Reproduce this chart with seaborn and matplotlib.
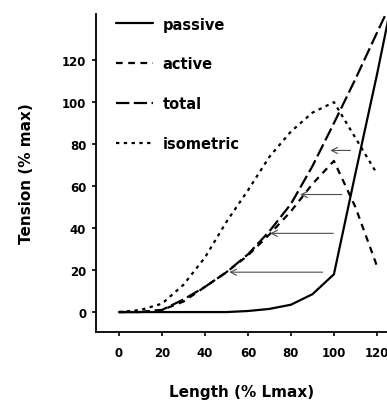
import numpy as np
import pandas as pd
import matplotlib
matplotlib.use("Agg")
import matplotlib.pyplot as plt
import seaborn as sns

# values
length_passive = [0, 20, 40, 50, 60, 70, 80, 90, 100, 110, 120, 126]
passive = [0, 0, 0, 0, 0.5, 1.5, 3.5, 8.5, 18, 66, 113, 143]

length_active = [0, 10, 20, 30, 40, 50, 60, 70, 80, 90, 100, 110, 120]
active = [0, 0, 1, 5, 12, 19, 27, 37, 48, 61, 72, 50, 22]

length_total = [0, 10, 20, 30, 40, 50, 60, 70, 80, 90, 100, 110, 120, 126]
total = [0, 0, 1, 6, 12, 19, 27.5, 38.5, 51.5, 69.5, 90, 111, 133, 146]

length_iso = [0, 10, 20, 30, 40, 50, 60, 70, 80, 90, 100, 120]
isometric = [0, 1, 4, 13, 26, 43, 58, 74, 86, 95, 100, 66]

# horizontal arrows: (tension, start length, end length)
arrow_y = [77, 56, 37.5, 19]
arrow_from = [109, 105, 101, 96]
arrow_to = [97, 83, 69, 50]

sns.set_style("ticks", {'axes.edgecolor': 'black', 'text.color': 'black',
                        'axes.labelcolor': 'black', 'xtick.color': 'black',
                        'ytick.color': 'black'})
plt.rcParams['font.family'] = ['DejaVu Sans']
plt.rcParams['font.weight'] = 'bold'

fig = plt.figure(figsize=(3.87, 4.06), dpi=100)
ax = fig.add_axes([96/387, 73/406, 1 - 96/387, (333 - 15)/406])

lw = 1.6
sns.lineplot(x=length_passive, y=passive, color='black', lw=lw, label='passive', ax=ax)
sns.lineplot(x=length_active, y=active, color='black', lw=lw, linestyle=(0, (3, 2.5)),
             label='active', ax=ax)
sns.lineplot(x=length_total, y=total, color='black', lw=lw, linestyle=(0, (6, 2)),
             label='total', ax=ax)
sns.lineplot(x=length_iso, y=isometric, color='black', lw=lw, linestyle=(0, (1.5, 2)),
             label='isometric', ax=ax)

for y, x0, x1 in zip(arrow_y, arrow_from, arrow_to):
    ax.annotate('', xy=(x1, y), xytext=(x0, y),
                arrowprops=dict(arrowstyle='->', lw=0.8, color='0.3', mutation_scale=11))

ax.set_xlim(-10.7, 124.7)
ax.set_ylim(-9.5, 142)
ax.set_xticks(range(0, 121, 20))
ax.set_yticks(range(0, 121, 20))
ax.tick_params(axis='both', labelsize=8.5, length=3, width=1.2)
ax.tick_params(axis='x', pad=7)
ax.tick_params(axis='y', pad=4)
for lab in ax.get_xticklabels() + ax.get_yticklabels():
    lab.set_fontweight('bold')

sns.despine(ax=ax)
ax.spines['left'].set_linewidth(1.3)
ax.spines['bottom'].set_linewidth(1.3)

ax.set_xlabel('Length (% Lmax)', fontsize=11, fontweight='bold', labelpad=18)
ax.set_ylabel('Tension (% max)', fontsize=11, fontweight='bold', labelpad=20)

ax.legend(loc='upper left', bbox_to_anchor=(0.045, 1.015), frameon=False,
          handlelength=2.5, labelspacing=1.7, borderpad=0, handletextpad=0.65,
          prop={'weight': 'bold', 'size': 10.5})

fig.savefig('out.png', dpi=100)
